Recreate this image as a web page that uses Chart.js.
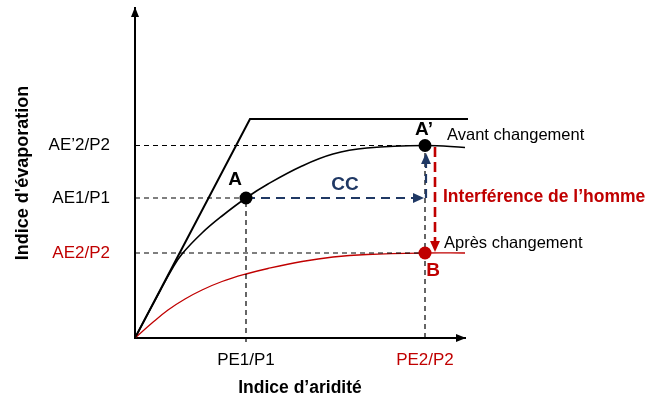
<!DOCTYPE html>
<html>
<head>
<meta charset="utf-8">
<script src="https://cdn.jsdelivr.net/npm/chart.js@4.4.1/dist/chart.umd.min.js"></script>
<style>
html, body { margin: 0; padding: 0; background: #fff; }
#wrap { width: 660px; height: 401px; }
</style>
</head>
<body>
<div id="wrap"><canvas id="budykoChart"></canvas></div>
<script>
// values, axis units are arbitrary (0-330 both ways)
const energyLimit = [[0, 0], [115, 219], [333, 219]];
const avantCurve = [[0, 0], [25, 47], [37, 69], [47, 84], [67, 105], [87, 122], [111, 140], [133, 154], [167, 172], [198, 184], [232, 190], [290, 192.5], [330, 190.5]];
const apresCurve = [[0, 0], [17, 15], [33, 28], [50, 39], [67, 48], [87, 56.5], [111, 64], [133, 69.5], [167, 76.5], [198, 81], [232, 83.5], [290, 85], [330, 85]];
const pointA = [111, 140];
const pointA2 = [290, 192.5];
const pointB = [290, 85];
const ccArrowH = [[111, 140], [289, 140]];
const ccArrowV = [[291, 140], [291, 185]];
const humanArrow = [[300, 191], [300, 86]];
const yTickValues = [85, 140, 192.5];
const yTickLabels = ['AE2/P2', 'AE1/P1', 'AE’2/P2'];
const xTickValues = [111, 290];
const xTickLabels = ['PE1/P1', 'PE2/P2'];

const RED = '#C00000';
const NAVY = '#1F3864';
const FONT = '"Liberation Sans", Arial, sans-serif';

const xy = arr => arr.map(p => ({ x: p[0], y: p[1] }));

const guides = [
  [[0, pointA2[1]], pointA2],
  [[0, pointA[1]], pointA],
  [[0, pointB[1]], pointB],
  [[pointA[0], -4], pointA],
  [[pointA2[0], 0], pointA2]
];

// text put on the plot, in data units
const notes = [
  { text: 'A', x: 100, y: 158, color: '#000', size: 19, bold: true, align: 'center' },
  { text: 'A’', x: 289, y: 208, color: '#000', size: 19, bold: true, align: 'center' },
  { text: 'B', x: 298, y: 67, color: RED, size: 19, bold: true, align: 'center' },
  { text: 'CC', x: 210, y: 153, color: NAVY, size: 19, bold: true, align: 'center' },
  { text: 'Interférence de l’homme', x: 308, y: 141, color: RED, size: 17.5, bold: true, align: 'left' },
  { text: 'Avant changement', x: 312, y: 203, color: '#000', size: 16.5, bold: false, align: 'left' },
  { text: 'Après changement', x: 309, y: 95, color: '#000', size: 16.5, bold: false, align: 'left' }
];

const guideSets = guides.map(g => ({
  data: xy(g),
  borderColor: '#000',
  borderWidth: 1.2,
  borderDash: [5, 4],
  pointRadius: 0,
  clip: false
}));

const arrowPlugin = {
  id: 'arrows',
  afterDatasetsDraw(chart) {
    const ctx = chart.ctx;
    chart.data.datasets.forEach((ds, i) => {
      if (!ds.arrowHead) return;
      const pts = chart.getDatasetMeta(i).data;
      const a = pts[pts.length - 2], b = pts[pts.length - 1];
      const ang = Math.atan2(b.y - a.y, b.x - a.x);
      const len = ds.arrowHead, wid = ds.arrowHead * 0.45;
      ctx.save();
      ctx.fillStyle = ds.borderColor;
      ctx.beginPath();
      ctx.moveTo(b.x, b.y);
      ctx.lineTo(b.x - len * Math.cos(ang) + wid * Math.sin(ang), b.y - len * Math.sin(ang) - wid * Math.cos(ang));
      ctx.lineTo(b.x - len * Math.cos(ang) - wid * Math.sin(ang), b.y - len * Math.sin(ang) + wid * Math.cos(ang));
      ctx.closePath();
      ctx.fill();
      ctx.restore();
    });
    // axis arrows
    const { left, top, right, bottom } = chart.chartArea;
    ctx.save();
    ctx.fillStyle = '#000';
    ctx.beginPath();
    ctx.moveTo(left, top - 1);
    ctx.lineTo(left - 4, top + 9);
    ctx.lineTo(left + 4, top + 9);
    ctx.closePath();
    ctx.fill();
    ctx.beginPath();
    ctx.moveTo(right + 1, bottom);
    ctx.lineTo(right - 9, bottom - 4);
    ctx.lineTo(right - 9, bottom + 4);
    ctx.closePath();
    ctx.fill();
    ctx.restore();
  }
};

const notesPlugin = {
  id: 'notes',
  afterDraw(chart) {
    const ctx = chart.ctx;
    const xs = chart.scales.x, ys = chart.scales.y;
    ctx.save();
    ctx.textBaseline = 'middle';
    notes.forEach(n => {
      ctx.font = (n.bold ? 'bold ' : '') + n.size + 'px ' + FONT;
      ctx.fillStyle = n.color;
      ctx.textAlign = n.align;
      ctx.fillText(n.text, xs.getPixelForValue(n.x), ys.getPixelForValue(n.y));
    });
    ctx.restore();
  }
};

new Chart(document.getElementById('budykoChart'), {
  type: 'line',
  data: {
    datasets: [
      {
        data: xy([pointA, pointA2]),
        showLine: false,
        pointRadius: 6.5,
        pointBackgroundColor: '#000',
        pointBorderWidth: 0
      },
      {
        data: xy([pointB]),
        showLine: false,
        pointRadius: 6.5,
        pointBackgroundColor: RED,
        pointBorderWidth: 0
      },
      { data: xy(ccArrowH), borderColor: NAVY, borderWidth: 2.2, borderDash: [9, 6], pointRadius: 0, arrowHead: 11 },
      { data: xy(ccArrowV), borderColor: NAVY, borderWidth: 2.2, borderDash: [9, 6], pointRadius: 0, arrowHead: 11 },
      { data: xy(humanArrow), borderColor: RED, borderWidth: 2.6, borderDash: [10, 5], pointRadius: 0, arrowHead: 11 },
      ...guideSets,
      { data: xy(avantCurve), borderColor: '#000', borderWidth: 1.6, pointRadius: 0, tension: 0.4 },
      { data: xy(apresCurve), borderColor: RED, borderWidth: 1.3, pointRadius: 0, tension: 0.4 },
      { data: xy(energyLimit), borderColor: '#000', borderWidth: 2, pointRadius: 0, clip: false }
    ]
  },
  options: {
    responsive: true,
    maintainAspectRatio: false,
    animation: false,
    layout: { autoPadding: false, padding: { top: 8, right: 195, bottom: 0, left: 0 } },
    plugins: { legend: { display: false }, tooltip: { enabled: false } },
    scales: {
      x: {
        type: 'linear',
        min: 0,
        max: 330,
        grid: { display: false, drawTicks: false },
        border: { display: true, color: '#000', width: 2 },
        afterBuildTicks: scale => { scale.ticks = xTickValues.map(v => ({ value: v })); },
        afterFit: scale => {
          scale.height = 63;
          scale.paddingLeft = 0;
          scale.paddingRight = 0;
        },
        ticks: {
          padding: 12,
          autoSkip: false,
          maxRotation: 0,
          font: { family: FONT, size: 17 },
          color: c => (c.index === 1 ? RED : '#000'),
          callback: (v, i) => xTickLabels[i]
        },
        title: {
          display: true,
          text: 'Indice d’aridité',
          color: '#000',
          font: { family: FONT, size: 17.5, weight: 'bold' },
          padding: { top: 0, bottom: 2 }
        }
      },
      y: {
        type: 'linear',
        min: 0,
        max: 330,
        grid: { display: false, drawTicks: false },
        border: { display: true, color: '#000', width: 2 },
        afterBuildTicks: scale => { scale.ticks = yTickValues.map(v => ({ value: v })); },
        afterFit: scale => {
          scale.width = 135;
          scale.paddingTop = 0;
          scale.paddingBottom = 0;
        },
        ticks: {
          padding: 25,
          autoSkip: false,
          font: { family: FONT, size: 17 },
          color: c => (c.index === 0 ? RED : '#000'),
          callback: (v, i) => yTickLabels[i]
        },
        title: {
          display: true,
          text: "Indice d'évaporation",
          color: '#000',
          font: { family: FONT, size: 18, weight: 'bold' },
          padding: { top: 12, bottom: 0 }
        }
      }
    }
  },
  plugins: [arrowPlugin, notesPlugin]
});
</script>
</body>
</html>
